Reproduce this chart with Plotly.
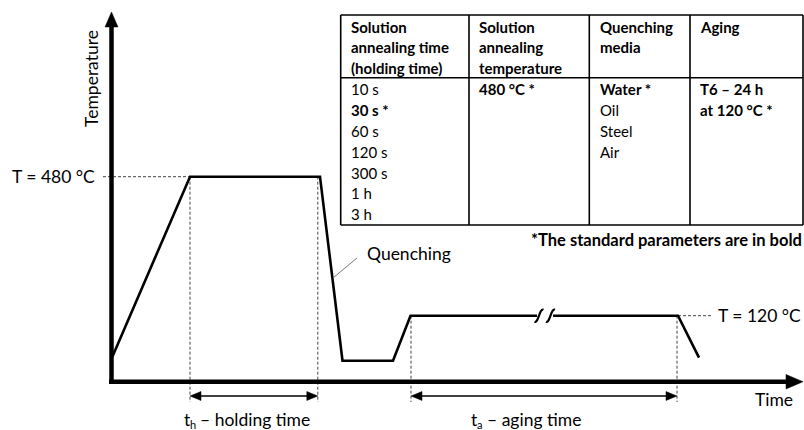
import plotly.graph_objects as go

# ---- schematic heat-treatment profile (time units / temperature level units,
#      both measured from the axis origin) ----
T_SOLUTION = 480          # °C, solution annealing temperature
T_AGING = 120             # °C, aging temperature
LEVEL_SOLUTION = 205      # schematic height of the 480 °C plateau
LEVEL_AGING = 66          # schematic height of the 120 °C plateau

# heating -> holding -> quenching -> room temperature -> ramp to aging (up to the axis break)
profile_time_a = [0, 78.5, 208.5, 231, 281.5, 299, 425.5]
profile_temp_a = [23, LEVEL_SOLUTION, LEVEL_SOLUTION, 21, 21, LEVEL_AGING, LEVEL_AGING]
# aging after the break -> cooling
profile_time_b = [441.5, 566.5, 587.5]
profile_temp_b = [LEVEL_AGING, LEVEL_AGING, 24]

HOLD_START, HOLD_END = 78.5, 206.3
AGE_START, AGE_END = 299.5, 565.5
BREAK_CENTERS = [427.5, 439.0]

# ---- parameter table ----
table_header = [
    ["Solution", "annealing time", "(holding time)"],
    ["Solution", "annealing", "temperature"],
    ["Quenching", "media"],
    ["Aging"],
]
table_body = [
    ["10 s", "<b>30 s *</b>", "60 s", "120 s", "300 s", "1 h", "3 h"],
    ["<b>480 °C *</b>"],
    ["<b>Water *</b>", "Oil", "Steel", "Air"],
    ["<b>T6 – 24 h</b>", "<b>at 120 °C *</b>"],
]
NOTE = "<b>*The standard parameters are in bold</b>"

# ---- canvas geometry (pixel frame -> data frame) ----
W, H = 804, 430
OX, OY = 111.5, 381.7


def X(p):
    return p - OX


def Y(p):
    return OY - p


FONT = "Lato"
INK = "#000000"
DASH = "#444444"

fig = go.Figure()


def line(xs, ys, width=1.0, color=INK, dash=None):
    fig.add_trace(go.Scatter(x=xs, y=ys, mode="lines", hoverinfo="skip",
                             line=dict(color=color, width=width, dash=dash)))


def tri(xs, ys):
    fig.add_trace(go.Scatter(x=xs + [xs[0]], y=ys + [ys[0]], mode="lines", fill="toself",
                             fillcolor=INK, hoverinfo="skip", line=dict(color=INK, width=0.5)))


def text(x, y, s, size, xanchor="left", angle=0, color=INK):
    fig.add_annotation(x=x, y=y, text=s, showarrow=False, xanchor=xanchor, yanchor="middle",
                       textangle=angle, font=dict(family=FONT, size=size, color=color),
                       borderpad=0)


# dashed guide lines
dash_style = "3px,2px"
line([X(103), HOLD_START], [LEVEL_SOLUTION, LEVEL_SOLUTION], 1, DASH, dash_style)
line([profile_time_b[1], X(712)], [LEVEL_AGING, LEVEL_AGING], 1, DASH, dash_style)
for t, top in [(HOLD_START, LEVEL_SOLUTION), (HOLD_END, LEVEL_SOLUTION),
               (AGE_START, LEVEL_AGING), (AGE_END, LEVEL_AGING)]:
    line([t, t], [top, Y(402)], 1, DASH, dash_style)

# axes with arrowheads
line([0, 0], [Y(384), Y(24)], 4.5)
line([X(109), X(790)], [0, 0], 4.5)
tri([X(105), X(118), X(111.5)], [Y(27), Y(27), Y(12)])
tri([X(786), X(786), X(803)], [Y(374.5), Y(389), Y(381.7)])

# temperature profile
line(profile_time_a, profile_temp_a, 2.6)
line(profile_time_b, profile_temp_b, 2.6)

# axis-break marks on the aging plateau
for c in BREAK_CENTERS:
    fig.add_shape(type="path", xref="x", yref="y",
                  path=f"M {c-4.5},{LEVEL_AGING-6} C {c-0.5},{LEVEL_AGING-8} {c+0.5},{LEVEL_AGING+8} {c+4.5},{LEVEL_AGING+6}",
                  line=dict(color=INK, width=2.2))

# holding / aging time spans
for a, b in [(HOLD_START, HOLD_END), (AGE_START, AGE_END)]:
    yy = Y(396)
    line([a + 6, b - 6], [yy, yy], 1.3)
    tri([a, a + 11, a + 11], [yy, yy + 4.5, yy - 4.5])
    tri([b, b - 11, b - 11], [yy, yy + 4.5, yy - 4.5])

# quenching leader
line([X(333), X(357)], [Y(278), Y(258)], 1, "#777777")

# labels
LBL = 17.5
text(X(96), LEVEL_SOLUTION, f"T = {T_SOLUTION} °C", LBL, "right")
text(X(717), LEVEL_AGING, f"T = {T_AGING} °C", LBL, "left")
text(X(366), Y(253), "Quenching", LBL, "left")
text(X(91), Y(79), "Temperature", LBL, "center", angle=-90)
text(X(754), Y(399), "Time", LBL, "left")

# span labels: symbol, subscript, description
for x0, sub, desc in [(183, "h", "– holding time"), (470, "a", "– aging time")]:
    text(X(x0), Y(419), "t", 17.5, "left")
    text(X(x0 + 6.3), Y(424), sub, 11, "left")
    text(X(x0 + 16), Y(419), desc, 17.5, "left")

# table frame
T_LEFT, T_RIGHT, T_TOP, T_BOT, T_HEAD = 340.7, 803, 15, 225, 77.7
COLS = [T_LEFT, 469, 589.3, 690, T_RIGHT]
for xs, ys in [([T_LEFT, T_RIGHT], [T_TOP, T_TOP]), ([T_LEFT, T_RIGHT], [T_BOT, T_BOT]),
               ([T_LEFT, T_RIGHT], [T_HEAD, T_HEAD])]:
    line([X(v) for v in xs], [Y(v) for v in ys], 1.6)
for cx in COLS:
    line([X(cx), X(cx)], [Y(T_TOP), Y(T_BOT)], 1.6)

TBL = 15
col_text_x = [350, 477.5, 598.5, 698.5]
head_rows = [26.7, 47.3, 68.0]
body_rows = [89.3 + 20.8 * k for k in range(7)]
for ci, lines_ in enumerate(table_header):
    for ri, s in enumerate(lines_):
        text(X(col_text_x[ci]), Y(head_rows[ri]), f"<b>{s}</b>", TBL, "left")
for ci, lines_ in enumerate(table_body):
    for ri, s in enumerate(lines_):
        text(X(col_text_x[ci]), Y(body_rows[ri]), s, TBL, "left")
text(X(803), Y(240), NOTE, 16.5, "right")

fig.update_layout(
    width=W, height=H, margin=dict(l=0, r=0, t=0, b=0),
    paper_bgcolor="white", plot_bgcolor="white", showlegend=False,
    xaxis=dict(range=[X(0), X(W)], visible=False, fixedrange=True),
    yaxis=dict(range=[Y(H), Y(0)], visible=False, fixedrange=True),
)

fig.write_html("out.html")
